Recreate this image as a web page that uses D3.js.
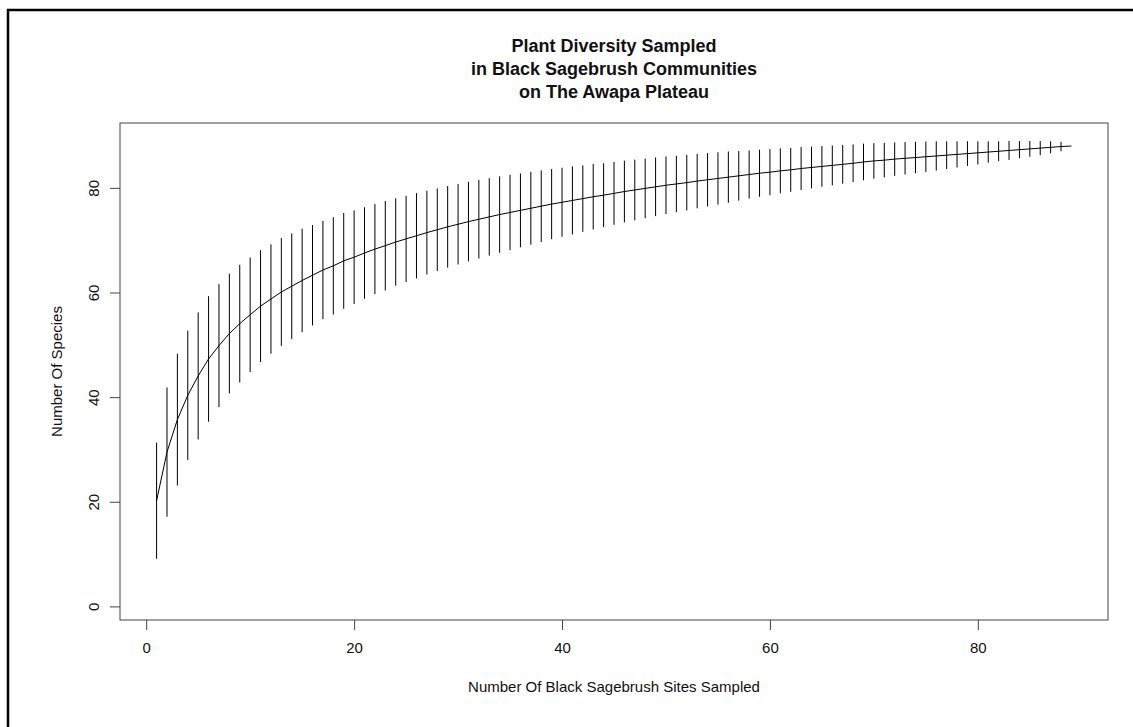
<!DOCTYPE html>
<html>
<head>
<meta charset="utf-8">
<script src="https://cdn.jsdelivr.net/npm/d3@7"></script>
<style>
  html, body { margin: 0; padding: 0; background: #fff; }
  svg { display: block; }
  text { font-family: "Liberation Sans", Arial, sans-serif; fill: #111; }
</style>
</head>
<body>
<svg id="chart" width="1133" height="727"></svg>
<script>
// ---- data ----
const sites = d3.range(1, 90);
const richness = [
  20.2, 29.5, 35.7, 40.35, 44.05, 47.3, 49.85, 52.15, 54.05, 55.75,
  57.4, 58.75, 60.1, 61.2, 62.3, 63.3, 64.3, 65.1, 66.05, 66.75,
  67.55, 68.3, 68.95, 69.65, 70.25, 70.85, 71.45, 72.0, 72.55, 73.05,
  73.55, 74.0, 74.45, 74.9, 75.3, 75.7, 76.1, 76.5, 76.9, 77.25,
  77.6, 77.95, 78.3, 78.6, 78.95, 79.3, 79.6, 79.9, 80.2, 80.5,
  80.75, 81.0, 81.3, 81.55, 81.8, 82.05, 82.3, 82.55, 82.8, 83.0,
  83.25, 83.45, 83.7, 83.9, 84.1, 84.3, 84.5, 84.7, 84.95, 85.15,
  85.3, 85.5, 85.65, 85.8, 85.95, 86.1, 86.25, 86.4, 86.55, 86.7,
  86.85, 87.0, 87.15, 87.3, 87.45, 87.6, 87.75, 87.9, 88.0
];
const halfWidth = [
  11.1, 12.35, 12.6, 12.35, 12.15, 12.0, 11.75, 11.45, 11.25, 10.95,
  10.7, 10.45, 10.3, 10.1, 9.9, 9.6, 9.4, 9.3, 9.15, 8.95,
  8.75, 8.6, 8.55, 8.35, 8.25, 8.15, 8.0, 7.9, 7.8, 7.7,
  7.6, 7.5, 7.4, 7.3, 7.2, 7.05, 6.95, 6.85, 6.7, 6.6,
  6.5, 6.35, 6.25, 6.1, 6.0, 5.9, 5.8, 5.7, 5.6, 5.5,
  5.4, 5.3, 5.2, 5.1, 5.0, 4.9, 4.75, 4.6, 4.5, 4.4,
  4.3, 4.2, 4.1, 4.0, 3.9, 3.8, 3.7, 3.6, 3.5, 3.4,
  3.3, 3.2, 3.1, 3.0, 2.9, 2.8, 2.65, 2.5, 2.35, 2.2,
  2.05, 1.9, 1.8, 1.65, 1.5, 1.35, 1.15, 0.9, 0
];
const xTicks = [0, 20, 40, 60, 80];
const yTicks = [0, 20, 40, 60, 80];
const titleLines = ["Plant Diversity Sampled", "in Black Sagebrush Communities", "on The Awapa Plateau"];
const xLabel = "Number Of Black Sagebrush Sites Sampled";
const yLabel = "Number Of Species";

// ---- layout ----
const svg = d3.select("#chart");
const box = { left: 120, right: 1108, top: 123, bottom: 620 };

const x = d3.scaleLinear().domain([-2.52, 92.52]).range([box.left, box.right]);
const y = d3.scaleLinear().domain([-2.6, 92.4]).range([box.bottom, box.top]);

const data = sites.map((s, i) => ({ s, m: richness[i], h: halfWidth[i] }));

// outer document frame
svg.append("path")
  .attr("d", `M8,727 L8,10 L1133,10`)
  .attr("fill", "none").attr("stroke", "#000").attr("stroke-width", 2.5);

// title
const title = svg.append("text")
  .attr("text-anchor", "middle")
  .style("font-weight", "bold").style("font-size", "18px");
titleLines.forEach((t, i) => {
  title.append("tspan").attr("x", (box.left + box.right) / 2).attr("y", 52 + i * 23).text(t);
});

// plot box
svg.append("rect")
  .attr("x", box.left).attr("y", box.top)
  .attr("width", box.right - box.left).attr("height", box.bottom - box.top)
  .attr("fill", "none").attr("stroke", "#444").attr("stroke-width", 1);

// error bars
svg.append("g").selectAll("line").data(data.filter(d => d.h > 0)).join("line")
  .attr("x1", d => x(d.s)).attr("x2", d => x(d.s))
  .attr("y1", d => y(d.m - d.h)).attr("y2", d => y(d.m + d.h))
  .attr("stroke", "#000").attr("stroke-width", 1);

// mean curve
svg.append("path").datum(data)
  .attr("d", d3.line().x(d => x(d.s)).y(d => y(d.m)))
  .attr("fill", "none").attr("stroke", "#000").attr("stroke-width", 1);

// x axis
const xAxis = svg.append("g").attr("transform", `translate(0,${box.bottom})`)
  .call(d3.axisBottom(x).tickValues(xTicks).tickSize(10).tickPadding(12).tickFormat(d3.format("d")));
xAxis.select(".domain").remove();
xAxis.selectAll(".tick line").attr("stroke", "#444");
xAxis.selectAll(".tick text").style("font-size", "15px").style("font-family", "Liberation Sans, Arial, sans-serif").attr("fill", "#111");

// y axis
const yAxis = svg.append("g").attr("transform", `translate(${box.left},0)`)
  .call(d3.axisLeft(y).tickValues(yTicks).tickSize(10).tickFormat(d3.format("d")));
yAxis.select(".domain").remove();
yAxis.selectAll(".tick line").attr("stroke", "#444");
yAxis.selectAll(".tick text")
  .attr("x", null).attr("dy", null)
  .attr("text-anchor", "middle")
  .attr("transform", "translate(-26,0) rotate(-90)")
  .attr("dy", "0.35em")
  .style("font-size", "15px").style("font-family", "Liberation Sans, Arial, sans-serif").attr("fill", "#111");

// axis labels
svg.append("text").attr("x", (box.left + box.right) / 2).attr("y", 692)
  .attr("text-anchor", "middle").style("font-size", "15px").text(xLabel);
svg.append("text").attr("transform", `translate(62,${(box.top + box.bottom) / 2}) rotate(-90)`)
  .attr("text-anchor", "middle").style("font-size", "15px").text(yLabel);
</script>
</body>
</html>
